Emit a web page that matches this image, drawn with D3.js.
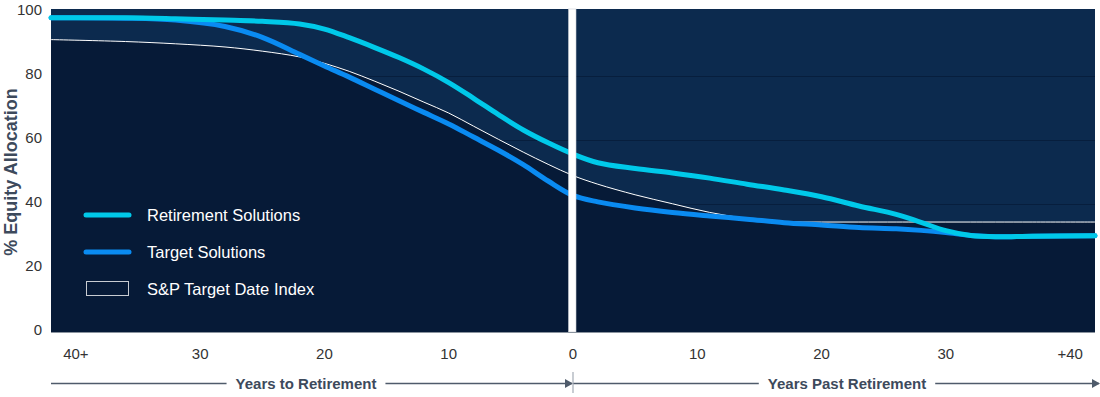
<!DOCTYPE html>
<html><head><meta charset="utf-8">
<script src="https://cdn.jsdelivr.net/npm/d3@7"></script>
<style>body{margin:0;background:#fff;} svg{display:block;font-family:"Liberation Sans",Arial,Helvetica,sans-serif;}</style>
</head><body><svg id="c" width="1100" height="397"></svg>
<script>
const years = [-42,-36,-32,-28,-25,-22,-20,-18,-16,-14,-12,-10,-8,-6,-4,-2,0,2,5,8,11,14,17,20,23,26,28,30,32,34,37,42];
const retirementSolutions = [98.0,98.0,97.7,97.3,96.9,96.1,94.5,91.8,88.8,85.6,82.0,77.8,72.9,67.8,63.0,59.0,55.5,52.8,51.0,49.6,48.0,46.1,44.3,42.2,39.3,36.7,34.2,31.6,30.1,29.7,29.9,30.0];
const targetSolutions = [98.0,97.9,97.3,95.3,91.9,86.6,83.0,79.5,75.8,72.1,68.5,64.9,60.8,56.7,52.2,47.1,42.6,40.6,38.7,37.3,36.2,35.2,34.1,33.4,32.6,32.2,31.7,31.0,30.1,29.7,29.9,30.0];
const spTargetDateIndex = [91.2,90.6,89.9,88.9,87.6,85.8,83.8,81.3,78.3,75.1,71.7,68.3,64.2,60.1,56.1,52.3,48.8,46.1,42.8,40.0,37.3,35.4,34.4,34.3,34.3,34.3,34.3,34.3,34.3,34.3,34.3,34.3];
const xTickValues = [-40,-30,-20,-10,0,10,20,30,40];
const xTickLabels = ["40+","30","20","10","0","10","20","30","+40"];
const yTickValues = [0,20,40,60,80,100];
const gridValues = [20,40,60,80];
const legendLabels = ["Retirement Solutions","Target Solutions","S&P Target Date Index"];
const axisTitles = ["% Equity Allocation","Years to Retirement","Years Past Retirement"];

const svg = d3.select("#c");
const L = 51, R = 1095, T = 9, B = 332;
const x = d3.scaleLinear().domain([-42, 42]).range([L, R]);
const y = d3.scaleLinear().domain([0, 100.75]).range([B, T]);

const C = {light:"#0c2a4e", dark:"#061a37", grid:"#071e3d", cyan:"#00c9e9", blue:"#0a8bf1", text:"#333333", title:"#3d4a5c", arrow:"#4f5b6b"};

// background
svg.append("rect").attr("x", L).attr("y", T).attr("width", R - L).attr("height", B - T).attr("fill", C.light);

// gridlines
svg.append("g").selectAll("line").data(gridValues).join("line")
  .attr("x1", L).attr("x2", R).attr("y1", d => Math.round(y(d)) + 0.5).attr("y2", d => Math.round(y(d)) + 0.5)
  .attr("stroke", C.grid).attr("stroke-width", 1.2);

const rows = years.map((t, i) => ({t, r: retirementSolutions[i], g: targetSolutions[i], s: spTargetDateIndex[i]}));
const curve = d3.curveCatmullRom.alpha(0.5);

// S&P area
svg.append("path").datum(rows)
  .attr("d", d3.area().x(d => x(d.t)).y0(y(0)).y1(d => y(d.s)).curve(curve))
  .attr("fill", C.dark);
svg.append("path").datum(rows)
  .attr("d", d3.line().x(d => x(d.t)).y(d => y(d.s)).curve(curve))
  .attr("fill", "none").attr("stroke", "#ffffff").attr("stroke-width", 1);

// lines
svg.append("path").datum(rows)
  .attr("d", d3.line().x(d => x(d.t)).y(d => y(d.g)).curve(curve))
  .attr("fill", "none").attr("stroke", C.blue).attr("stroke-width", 5).attr("stroke-linecap", "round");
svg.append("path").datum(rows)
  .attr("d", d3.line().x(d => x(d.t)).y(d => y(d.r)).curve(curve))
  .attr("fill", "none").attr("stroke", C.cyan).attr("stroke-width", 5).attr("stroke-linecap", "round");

// divider
svg.append("rect").attr("x", x(0) - 4.5).attr("y", T).attr("width", 7.5).attr("height", B - T)
  .attr("fill", "#ffffff").attr("stroke", "#c9cdd3").attr("stroke-width", 0.6);

// bottom axis line
svg.append("line").attr("x1", L).attr("x2", R).attr("y1", B + 0.5).attr("y2", B + 0.5)
  .attr("stroke", "#8a939e").attr("stroke-width", 1);

// y tick labels
svg.append("g").selectAll("text").data(yTickValues).join("text")
  .attr("x", 42).attr("y", d => y(d) - 2).attr("dy", "0.35em")
  .attr("text-anchor", "end").attr("font-size", 15).attr("fill", C.text).text(d => d);

// x tick labels
svg.append("g").selectAll("text").data(xTickValues).join("text")
  .attr("x", d => x(d)).attr("y", 359)
  .attr("text-anchor", "middle").attr("font-size", 15).attr("fill", C.text)
  .text((d, i) => xTickLabels[i]);

// y title
svg.append("text").attr("transform", "translate(17,172) rotate(-90)")
  .attr("text-anchor", "middle").attr("font-size", 18).attr("font-weight", "bold")
  .attr("fill", C.title).text(axisTitles[0]);

// bottom arrows
const ay = 383.5;
const gA = svg.append("g");
const t1 = gA.append("text").attr("x", 306).attr("y", ay + 5).attr("text-anchor", "middle")
  .attr("font-size", 15).attr("font-weight", "bold").attr("fill", C.title).text(axisTitles[1]);
const t2 = gA.append("text").attr("x", 847).attr("y", ay + 5).attr("text-anchor", "middle")
  .attr("font-size", 15).attr("font-weight", "bold").attr("fill", C.title).text(axisTitles[2]);
const b1 = t1.node().getBBox(), b2 = t2.node().getBBox();
const gap = 9;
const segs = [[L, b1.x - gap], [b1.x + b1.width + gap, x(0) - 1], [x(0), b2.x - gap], [b2.x + b2.width + gap, 1099]];
gA.selectAll("line.seg").data(segs).join("line").attr("class", "seg")
  .attr("x1", d => d[0]).attr("x2", d => d[1]).attr("y1", ay).attr("y2", ay)
  .attr("stroke", C.arrow).attr("stroke-width", 1.4);
const arrowTips = [x(0), 1100];
gA.selectAll("path.tip").data(arrowTips).join("path").attr("class", "tip")
  .attr("d", d => `M${d},${ay} L${d - 8},${ay - 4.5} L${d - 8},${ay + 4.5} Z`)
  .attr("fill", C.arrow);
gA.append("line").attr("x1", x(0)).attr("x2", x(0)).attr("y1", 372).attr("y2", 393)
  .attr("stroke", "#a3abb5").attr("stroke-width", 1.2);

// legend
const lg = svg.append("g");
const lx = 86, ly = [215, 252, 289];
lg.append("line").attr("x1", lx).attr("x2", lx + 43).attr("y1", ly[0]).attr("y2", ly[0])
  .attr("stroke", C.cyan).attr("stroke-width", 5).attr("stroke-linecap", "round");
lg.append("line").attr("x1", lx).attr("x2", lx + 43).attr("y1", ly[1]).attr("y2", ly[1])
  .attr("stroke", C.blue).attr("stroke-width", 5).attr("stroke-linecap", "round");
lg.append("rect").attr("x", lx + 0.5).attr("y", ly[2] - 7.5).attr("width", 42).attr("height", 14)
  .attr("fill", "none").attr("stroke", "#c8ccd2").attr("stroke-width", 1);
lg.selectAll("text").data(legendLabels).join("text")
  .attr("x", 147).attr("y", (d, i) => ly[i]).attr("dy", "0.35em")
  .attr("font-size", 16.5).attr("fill", "#ffffff").text(d => d);
</script></body></html>
